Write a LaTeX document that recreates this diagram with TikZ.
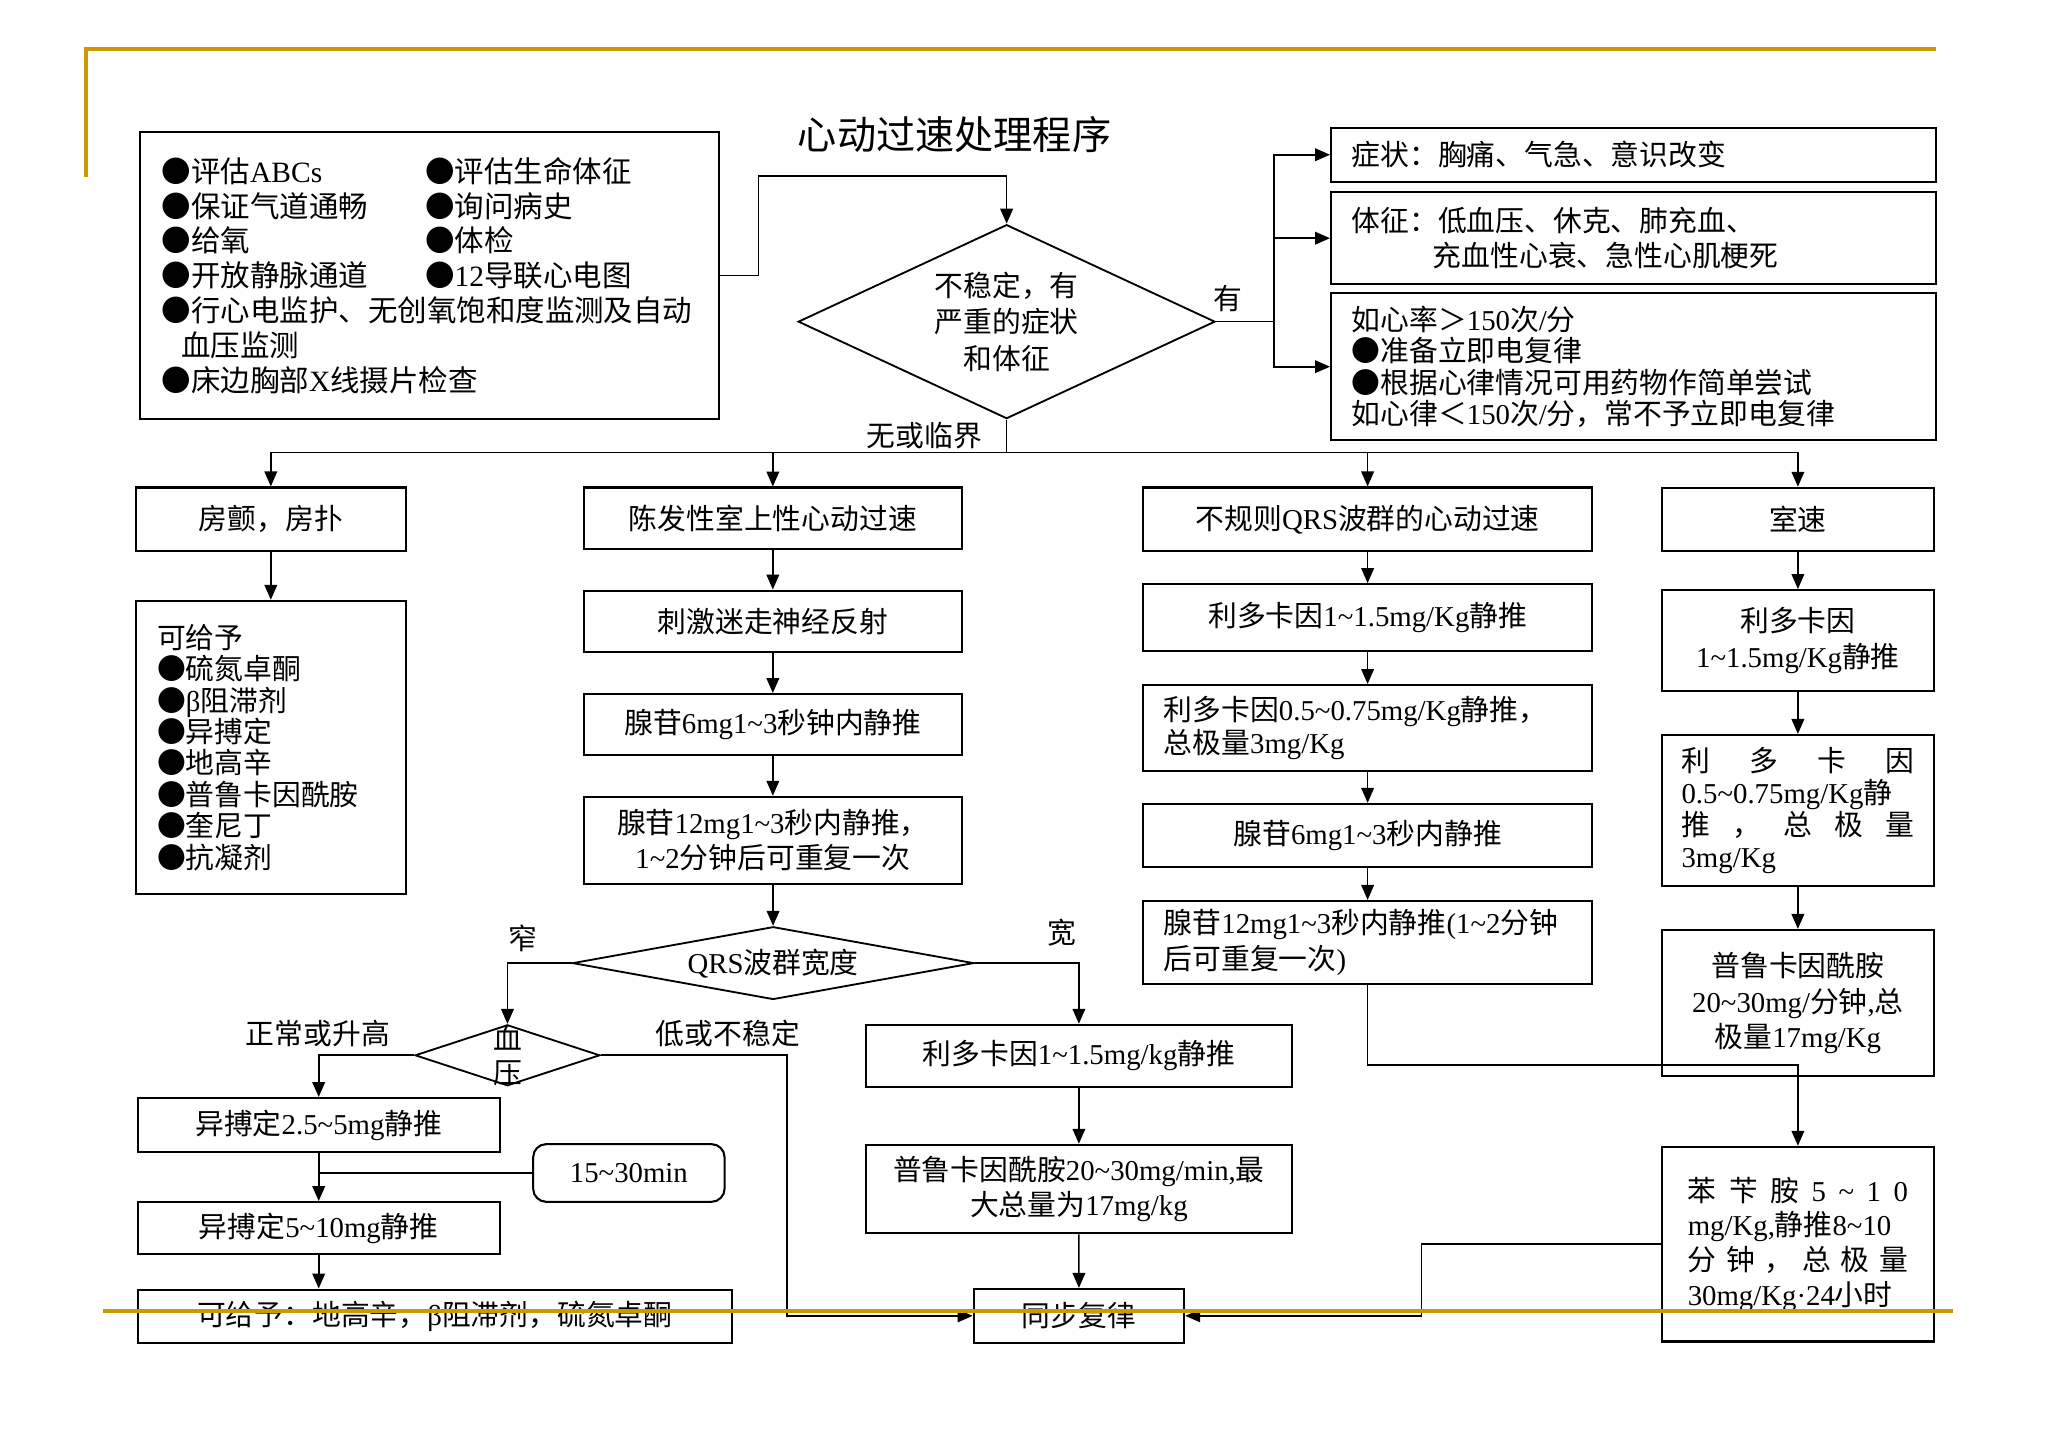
\documentclass[tikz,border=0pt]{standalone}
\usepackage{fontspec}
\usetikzlibrary{shapes.geometric,arrows.meta}
\setmainfont{Liberation Serif}
\newfontfamily\cjkfont{Noto Sans CJK SC}
\definecolor{slidegold}{RGB}{204,153,0}
\newcommand{\tld}{\textasciitilde}

% Chinese characters go to the CJK font, the rest stays in Liberation Serif
\XeTeXinterchartokenstate=1
\ifdefined\newXeTeXintercharclass \newXeTeXintercharclass\cjkclass \else \chardef\cjkclass=7 \fi
\makeatletter
\def\cjkrange#1#2{\count@=#1\relax
  \loop\XeTeXcharclass\count@=\cjkclass
  \ifnum\count@<#2\relax\advance\count@\@ne\repeat}
\cjkrange{"3000}{"303F}
\cjkrange{"3400}{"9FFF}
\cjkrange{"FF00}{"FFEF}
\XeTeXcharclass"25CF=\cjkclass
\makeatother
\XeTeXinterchartoks 0 \cjkclass = {\cjkfont}
\XeTeXinterchartoks 4095 \cjkclass = {\cjkfont}
\XeTeXinterchartoks \cjkclass 0 = {\rmfamily}
\XeTeXinterchartoks \cjkclass 4095 = {\rmfamily}

\begin{document}
\begin{tikzpicture}[
    x=0.02cm, y=-0.02cm,
    every node/.style={font=\fontsize{12.5}{15}\selectfont},
    box/.style={rectangle, draw, line width=0.9pt, inner sep=0pt, align=center},
    leftbox/.style={box, align=left},
    decision/.style={diamond, draw, line width=0.8pt, inner sep=0pt, align=center},
    note/.style={inner sep=0pt},
    arrow/.style={-{Triangle[length=6.5pt,width=5.5pt]}, line width=0.7pt},
    link/.style={line width=0.7pt},
]
\useasboundingbox (0,0) rectangle (1568,1110);

% Title
\node[font=\fontsize{17}{20}\selectfont] (title) at (728,103) {心动过速处理程序};

% Initial assessment
\node[leftbox, minimum width=8.84cm, minimum height=4.38cm, text width=8.17cm,
      font=\fontsize{12.8}{15.1}\selectfont] (assess) at (327.5,210) {
    \makebox[4.02cm][l]{●评估ABCs}●评估生命体征\\
    \makebox[4.02cm][l]{●保证气道通畅}●询问病史\\
    \makebox[4.02cm][l]{●给氧}●体检\\
    \makebox[4.02cm][l]{●开放静脉通道}●12导联心电图\\
    ●行心电监护、无创氧饱和度监测及自动\\
    \hspace*{0.3cm}血压监测\\
    ●床边胸部X线摄片检查
};

% Decision: unstable?
\node[decision, minimum width=6.36cm, minimum height=2.96cm, shape aspect=2.15,
      font=\fontsize{12.5}{15.9}\selectfont] (unstable) at (767.7,245.3) {不稳定，有\\严重的症状\\和体征};

% Unstable findings
\node[leftbox, minimum width=9.23cm, minimum height=0.82cm, text width=8.6cm] (symptom) at (1245.8,118) {症状：胸痛、气急、意识改变};
\node[leftbox, minimum width=9.23cm, minimum height=1.40cm, text width=8.6cm,
      font=\fontsize{12.5}{15.1}\selectfont] (sign) at (1245.8,181.65) {
    体征：低血压、休克、肺充血、\\
    \hspace*{1.24cm}充血性心衰、急性心肌梗死
};
\node[leftbox, minimum width=9.23cm, minimum height=2.24cm, text width=8.6cm,
      font=\fontsize{12.5}{13.7}\selectfont] (rate) at (1245.8,279.65) {
    如心率＞150次/分\\
    ●准备立即电复律\\
    ●根据心律情况可用药物作简单尝试\\
    如心律＜150次/分，常不予立即电复律
};

\node[note] (yes) at (936.6,227.5) {有};
\node[note] (none) at (705,331.8) {无或临界};

% Column 1: atrial fibrillation / flutter
\node[box, minimum width=4.12cm, minimum height=0.97cm] (af) at (206.55,396) {房颤，房扑};
\node[leftbox, minimum width=4.12cm, minimum height=4.47cm, text width=3.47cm,
      font=\fontsize{12.5}{13.65}\selectfont] (afdrug) at (206.55,569.95) {
    可给予\\●硫氮卓酮\\●β阻滞剂\\●异搏定\\●地高辛\\●普鲁卡因酰胺\\●奎尼丁\\●抗凝剂
};

% Column 2: PSVT
\node[box, minimum width=5.77cm, minimum height=0.94cm] (psvt) at (589.4,395.3) {陈发性室上性心动过速};
\node[box, minimum width=5.77cm, minimum height=0.94cm] (vagal) at (589.4,473.9) {刺激迷走神经反射};
\node[box, minimum width=5.77cm, minimum height=0.93cm] (ade1) at (589.4,552.55) {腺苷6mg1\tld 3秒钟内静推};
\node[box, minimum width=5.77cm, minimum height=1.33cm,
      font=\fontsize{12.5}{15.1}\selectfont] (ade2) at (589.4,640.9) {腺苷12mg1\tld 3秒内静推，\\1\tld 2分钟后可重复一次};
\node[decision, minimum width=6.12cm, minimum height=1.11cm, shape aspect=5.5] (qrs) at (589.65,734.5) {QRS波群宽度};

\node[note] (narrow) at (398.6,716) {窄};
\node[note] (wide) at (810,711.3) {宽};

% Narrow QRS: blood pressure
\node[decision, minimum width=2.82cm, minimum height=0.93cm] (bp) at (387,804.8) {};
\node[note, align=center, font=\fontsize{12.5}{14.6}\selectfont] (bptext) at (bp) {血\\压};
\node[note] (normal) at (242.5,787.9) {正常或升高};
\node[note] (low) at (555.1,787.9) {低或不稳定};

\node[box, minimum width=5.52cm, minimum height=0.82cm] (vera1) at (243.05,857.9) {异搏定2.5\tld 5mg静推};
\node[box, minimum width=5.52cm, minimum height=0.79cm] (vera2) at (243.05,936.5) {异搏定5\tld 10mg静推};
\node[box, rounded corners=0.2cm, minimum width=2.92cm, minimum height=0.88cm] (wait) at (479.6,894.55) {15\tld 30min};
\node[box, minimum width=9.06cm, minimum height=0.81cm] (oral) at (331.55,1003.7) {可给予：地高辛，β阻滞剂，硫氮卓酮};

% Wide QRS
\node[box, minimum width=6.49cm, minimum height=0.95cm] (lido1) at (822.8,805.3) {利多卡因1\tld 1.5mg/kg静推};
\node[box, minimum width=6.49cm, minimum height=1.35cm,
      font=\fontsize{12.5}{15.4}\selectfont] (proc1) at (822.8,906.8) {普鲁卡因酰胺20\tld 30mg/min,最\\大总量为17mg/kg};
\node[box, minimum width=3.21cm, minimum height=0.82cm] (sync) at (822.85,1003.5) {同步复律};

% Column 3: irregular QRS
\node[box, minimum width=6.84cm, minimum height=0.97cm] (irr) at (1043,396) {不规则QRS波群的心动过速};
\node[box, minimum width=6.84cm, minimum height=1.02cm] (lido2) at (1043,471) {利多卡因1\tld 1.5mg/Kg静推};
\node[leftbox, minimum width=6.84cm, minimum height=1.31cm, text width=6.22cm,
      font=\fontsize{12.5}{14.7}\selectfont] (lido3) at (1043,555.2) {利多卡因0.5\tld 0.75mg/Kg静推，\\总极量3mg/Kg};
\node[box, minimum width=6.84cm, minimum height=0.96cm] (ade3) at (1043,637.1) {腺苷6mg1\tld 3秒内静推};
\node[leftbox, minimum width=6.84cm, minimum height=1.27cm, text width=6.22cm,
      font=\fontsize{12.5}{15.7}\selectfont] (ade4) at (1043,718.85) {腺苷12mg1\tld 3秒内静推(1\tld 2分钟\\后可重复一次)};

% Column 4: VT
\node[box, minimum width=4.14cm, minimum height=0.96cm] (vt) at (1371.15,396) {室速};
\node[box, minimum width=4.14cm, minimum height=1.54cm,
      font=\fontsize{12.5}{15.5}\selectfont] (lido4) at (1371.15,488.5) {利多卡因\\1\tld 1.5mg/Kg静推};
\node[box, align=justify, minimum width=4.14cm, minimum height=2.30cm, text width=3.55cm,
      font=\fontsize{12.5}{13.85}\selectfont] (lido5) at (1371.15,618) {利 多 卡 因\linebreak 0.5\tld 0.75mg/Kg静\linebreak 推 ， 总 极 量\linebreak 3mg/Kg};
\node[box, minimum width=4.14cm, minimum height=2.23cm,
      font=\fontsize{12.5}{15.3}\selectfont] (proc2) at (1371.15,764.95) {普鲁卡因酰胺\\20\tld 30mg/分钟,总\\极量17mg/Kg};
\node[box, align=justify, minimum width=4.14cm, minimum height=2.97cm, text width=3.36cm,
      font=\fontsize{12.5}{15}\selectfont] (breth) at (1371.15,948.85) {苯 苄 胺 5 \tld{} 1 0\linebreak mg/Kg,静推8\tld 10\linebreak 分 钟 ， 总 极 量\linebreak 30mg/Kg·24小时};

% Assessment to decision
\coordinate (k1) at (578.6,134);
\draw[arrow] (assess.east) -| (k1) -| (unstable.north);

% Unstable branch
\coordinate (k2) at (971.6,245.3);
\draw[link] (unstable.east) -- (k2);
\draw[arrow] (k2) |- (symptom.west);
\draw[arrow] (k2) |- (sign.west);
\draw[arrow] (k2) |- (rate.west);

% Stable branch
\coordinate (k3) at (767.7,345.2);
\draw[link] (unstable.south) -- (k3);
\draw[arrow] (k3) -| (af.north);
\draw[arrow] (k3) -| (psvt.north);
\draw[arrow] (k3) -| (irr.north);
\draw[arrow] (k3) -| (vt.north);

% Column 1
\draw[arrow] (af) -- (afdrug);

% Column 2
\draw[arrow] (psvt) -- (vagal);
\draw[arrow] (vagal) -- (ade1);
\draw[arrow] (ade1) -- (ade2);
\draw[arrow] (ade2) -- (qrs);
\draw[arrow] (qrs.west) -| (bp.north);
\draw[arrow] (bp.west) -| (vera1.north);
\draw[arrow] (vera1) -- (vera2);
\draw[link] (wait.west) -- (wait.west -| vera1.south);
\draw[arrow] (vera2.south) -- (vera2.south |- oral.north);
\coordinate (k4) at (600.2,1003.5);
\draw[arrow] (bp.east) -| (k4) -- (sync.west);
\draw[arrow] (qrs.east) -| (lido1.north);
\draw[arrow] (lido1) -- (proc1);
\draw[arrow] (proc1) -- (sync);

% Column 3
\draw[arrow] (irr) -- (lido2);
\draw[arrow] (lido2) -- (lido3);
\draw[arrow] (lido3) -- (ade3);
\draw[arrow] (ade3) -- (ade4);
\coordinate (k5) at (1371.15,812.2);
\draw[arrow] (ade4.south) |- (k5) -- (breth.north);

% Column 4
\draw[arrow] (vt) -- (lido4);
\draw[arrow] (lido4) -- (lido5);
\draw[arrow] (lido5) -- (proc2);
\coordinate (k6) at (1084,1003.5);
\draw[arrow] (breth.west) -| (k6) -- (sync.east);

% Slide frame lines
\draw[slidegold, line width=1.8pt] (65.3,134.7) -- (65.3,37.4) -- (1476.6,37.4);
\draw[slidegold, line width=1.8pt] (78.5,999.6) -- (1489.2,999.6);

\end{tikzpicture}
\end{document}
